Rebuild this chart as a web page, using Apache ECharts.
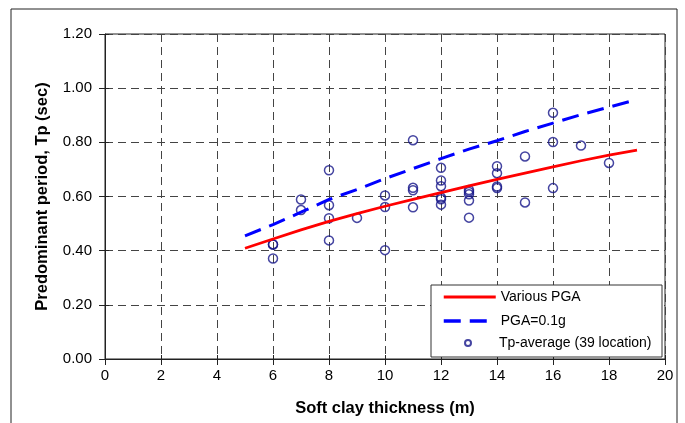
<!DOCTYPE html>
<html>
<head>
<meta charset="utf-8">
<script src="https://cdn.jsdelivr.net/npm/echarts@6/dist/echarts.min.js"></script>
<style>
  html, body { margin: 0; padding: 0; background: #fff; }
  #chart { width: 685px; height: 423px; }
</style>
</head>
<body>
<div id="chart"></div>
<script>
// measured sites: soft clay thickness (m) vs average predominant period (sec)
const thickness = [6, 6, 6, 7, 7, 8, 8, 8, 8, 9, 10, 10, 10, 11, 11, 11, 11,
  12, 12, 12, 12, 12, 12, 13, 13, 13, 13, 13, 14, 14, 14, 14, 15, 15, 16, 16, 16, 17, 18]
const tpAverage = [0.423, 0.423, 0.371, 0.589, 0.550, 0.697, 0.568, 0.520, 0.438, 0.521,
  0.604, 0.561, 0.402, 0.808, 0.632, 0.623, 0.560,
  0.706, 0.659, 0.638, 0.596, 0.590, 0.570,
  0.624, 0.617, 0.608, 0.585, 0.522,
  0.712, 0.686, 0.637, 0.631, 0.748, 0.578, 0.909, 0.801, 0.631, 0.788, 0.724]

// fitted curves
const fitThickness = [5, 6, 7, 8, 9, 10, 11, 12, 13, 14, 15, 16, 17, 18, 19]
const variousPga = [0.409, 0.443, 0.477, 0.508, 0.537, 0.564, 0.589, 0.614, 0.639, 0.663, 0.686, 0.709, 0.732, 0.753, 0.771]
const pga01g = [0.455, 0.496, 0.542, 0.589, 0.626, 0.666, 0.703, 0.740, 0.775, 0.806, 0.840, 0.871, 0.902, 0.930, 0.958]

const xTicks = { min: 0, max: 20, interval: 2 }
const yTicks = { min: 0, max: 1.2, interval: 0.2 }

const font = 'Arial, "Liberation Sans", sans-serif'
const gridLine = { color: '#444', type: [8, 5], width: 1 }
const legendText = { fontSize: 14, lineHeight: 16, color: '#000', fontFamily: font }
// hide the marker ECharts puts on line legend icons
const noMarker = { opacity: 0 }

const chart = echarts.init(document.getElementById('chart'), null, { renderer: 'canvas' })

chart.setOption({
  animation: false,
  backgroundColor: '#fff',
  textStyle: { fontFamily: font },
  grid: { left: 105, right: 20, top: 34, bottom: 64, show: true, borderColor: '#222', borderWidth: 1 },
  xAxis: [
    {
      type: 'value', ...xTicks,
      name: 'Soft clay thickness (m)', nameLocation: 'middle', nameGap: 41,
      nameTextStyle: { fontSize: 16.5, fontWeight: 'bold', color: '#000', fontFamily: font },
      axisLine: { lineStyle: { color: '#222', width: 1 } },
      axisTick: { length: 6, lineStyle: { color: '#222' } },
      axisLabel: { color: '#000', fontSize: 15, margin: 9, fontFamily: font },
      splitLine: { lineStyle: gridLine },
    },
    {
      type: 'value', ...xTicks, position: 'bottom',
      axisLine: { show: false },
      axisTick: { inside: true, length: 4, lineStyle: { color: '#222' } },
      axisLabel: { show: false },
      splitLine: { show: false },
    },
  ],
  yAxis: [
    {
      type: 'value', ...yTicks,
      name: 'Predominant period, Tp (sec)', nameLocation: 'middle', nameGap: 54,
      nameTextStyle: { fontSize: 16.5, fontWeight: 'bold', color: '#000', fontFamily: font },
      axisLine: { show: true, lineStyle: { color: '#222', width: 1 } },
      axisTick: { show: true, length: 6, lineStyle: { color: '#222' } },
      axisLabel: { color: '#000', fontSize: 15, margin: 13, fontFamily: font, formatter: (v) => v.toFixed(2) },
      splitLine: { lineStyle: gridLine },
    },
    {
      type: 'value', ...yTicks, position: 'left',
      axisLine: { show: false },
      axisTick: { show: true, inside: true, length: 4, lineStyle: { color: '#222' } },
      axisLabel: { show: false },
      splitLine: { show: false },
    },
  ],
  graphic: [
    // outer frame of the figure
    { type: 'rect', shape: { x: 11, y: 9, width: 666, height: 430 }, style: { fill: 'none', stroke: '#222', lineWidth: 1 }, z: 1 },
    // legend box
    { type: 'rect', shape: { x: 431, y: 285, width: 231, height: 72 }, style: { fill: '#fff', stroke: '#333', lineWidth: 1 }, z: 10 },
  ],
  legend: [
    {
      data: [
        { name: 'Various PGA', itemStyle: noMarker, lineStyle: { width: 3 } },
        { name: 'PGA=0.1g', itemStyle: noMarker, lineStyle: { width: 3.5 } },
      ],
      orient: 'vertical', left: 442, top: 289, padding: 0,
      itemWidth: 52, itemHeight: 14, itemGap: 8, selectedMode: false, z: 20,
      textStyle: legendText,
    },
    {
      data: ['Tp-average (39 location)'],
      orient: 'vertical', left: 464, top: 335, padding: 0,
      itemWidth: 52, itemHeight: 6, selectedMode: false, z: 20,
      textStyle: legendText,
    },
  ],
  series: [
    {
      name: 'Tp-average (39 location)',
      type: 'scatter',
      data: thickness.map((x, i) => [x, tpAverage[i]]),
      symbol: 'circle',
      symbolSize: 9,
      itemStyle: { color: 'rgba(0,0,0,0)', borderColor: '#16168a', borderWidth: 1.5 },
      z: 3,
    },
    {
      name: 'Various PGA',
      type: 'line',
      data: fitThickness.map((x, i) => [x, variousPga[i]]),
      symbol: 'none',
      lineStyle: { color: '#ff0000', width: 2.8 },
      itemStyle: { color: '#ff0000' },
      z: 4,
    },
    {
      name: 'PGA=0.1g',
      type: 'line',
      data: fitThickness.map((x, i) => [x, pga01g[i]]),
      symbol: 'none',
      lineStyle: { color: '#0000ff', width: 3, type: [17, 9] },
      itemStyle: { color: '#0000ff' },
      z: 4,
    },
  ],
})
</script>
</body>
</html>
